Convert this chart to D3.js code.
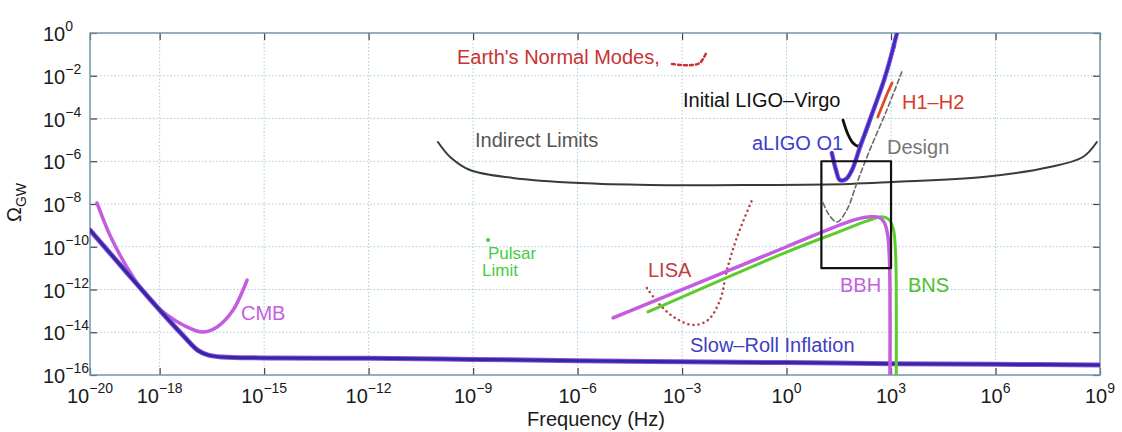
<!DOCTYPE html>
<meta charset="utf-8">
<style>
  body { margin: 0; background: #fff; }
  svg text { font-family: "Liberation Sans", Arial, sans-serif; }
</style>
<body>
<div id="chart"></div>
<script src="https://cdn.jsdelivr.net/npm/d3@7"></script>
<script>
  // all values are log10 exponents: [log10 f (Hz), log10 Omega_GW]
  var xTickExp = [-20, -18, -15, -12, -9, -6, -3, 0, 3, 6, 9];
  var yTickExp = [0, -2, -4, -6, -8, -10, -12, -14, -16];

  var inflation = [[-20, -9.22], [-19, -11.1], [-18, -12.96], [-17.3, -14.2], [-16.9, -14.85], [-16.6, -15.07],
    [-16.2, -15.16], [-15, -15.2], [-12, -15.22], [-9, -15.27], [-6, -15.33], [-3, -15.38], [0, -15.42],
    [3, -15.47], [6, -15.5], [9, -15.53]];
  var cmb = [[-19.8, -7.95], [-19.43, -9.45], [-18.94, -10.95], [-18.28, -12.49], [-17.79, -13.19],
    [-17.33, -13.66], [-16.78, -13.99], [-16.35, -13.75], [-15.89, -12.96], [-15.49, -11.56]];
  var indirect = [[-10.01, -5.1], [-9.66, -5.8], [-9.09, -6.41], [-7.86, -6.78], [-5.93, -7.02], [-3.92, -7.11],
    [-1.05, -7.11], [1.82, -7.06], [3.05, -6.97], [5.64, -6.74], [7.56, -6.27], [8.51, -5.8], [8.91, -5.1]];
  var earthModes = [[-3.29, -1.45], [-3.0, -1.5], [-2.72, -1.5], [-2.49, -1.4], [-2.31, -0.94]];
  var initialLigo = [[1.62, -4.07], [1.76, -4.73], [1.91, -5.15], [2.05, -5.29], [2.19, -5.01], [2.34, -4.4],
    [2.54, -3.42], [2.82, -2.06], [3.11, -0.56]];
  var aligoO1 = [[1.3, -5.61], [1.42, -6.41], [1.53, -6.88], [1.71, -6.83], [1.88, -6.41], [2.11, -5.33],
    [2.39, -4.07], [2.6, -3.13], [2.8, -2.2], [2.97, -1.26], [3.17, 0]];
  var h1h2 = [[2.62, -3.93], [2.77, -3.32], [2.91, -2.76], [3.03, -2.34]];
  var design = [[1.05, -7.95], [1.22, -8.51], [1.45, -8.84], [1.73, -8.28], [2.02, -7.02], [2.39, -5.47],
    [2.88, -3.6], [3.31, -1.82]];
  var lisa = [[-4.01, -11.93], [-3.63, -12.73], [-3.2, -13.33], [-2.69, -13.66], [-2.26, -13.43], [-1.91, -12.5],
    [-1.71, -11.09], [-1.42, -9.54], [-0.99, -7.81]];
  var bbh = [[-4.98, -13.33], [0, -10.0], [1.5, -9.0], [2.0, -8.72], [2.4, -8.6], [2.65, -8.62], [2.8, -8.85],
    [2.9, -9.4], [2.95, -10.4], [2.97, -12], [2.97, -16]];
  var bns = [[-3.98, -13.05], [0, -10.25], [1.5, -9.3], [2.3, -8.8], [2.75, -8.6], [2.95, -8.75], [3.07, -9.2],
    [3.13, -10.3], [3.15, -12], [3.15, -16]];
  var pulsar = [[-8.57, -9.68]];
  var boxF = [1, 3], boxO = [-6, -11];

  var W = 1122, H = 432;
  var x = d3.scaleLog().domain([1e-20, 1e9]).range([90, 1100]);
  var y = d3.scaleLog().domain([1e-16, 1]).range([375, 33]);
  function p10(e) { return Math.pow(10, e); }
  function pts(a) { return a.map(function (d) { return [p10(d[0]), p10(d[1])]; }); }

  var svg = d3.select("#chart").append("svg").attr("width", W).attr("height", H);

  // grid
  var grid = svg.append("g").attr("stroke", "#a9cbe0").attr("stroke-width", 1).attr("stroke-dasharray", "1.5,2");
  grid.selectAll("line.v").data(xTickExp.slice(1, -1)).enter().append("line")
    .attr("x1", function (d) { return x(p10(d)); }).attr("x2", function (d) { return x(p10(d)); })
    .attr("y1", 33).attr("y2", 375);
  grid.selectAll("line.h").data(yTickExp.slice(1, -1)).enter().append("line")
    .attr("y1", function (d) { return y(p10(d)); }).attr("y2", function (d) { return y(p10(d)); })
    .attr("x1", 90).attr("x2", 1100);

  // axes, ticks pointing inside
  var xT = xTickExp.map(p10), yT = yTickExp.map(p10);
  function styleAxis(g) {
    g.select(".domain").remove();
    g.selectAll(".tick line").attr("stroke", "#444").attr("stroke-width", 1.2);
    g.selectAll(".tick text").remove();
  }
  svg.append("g").attr("transform", "translate(0,375)")
    .call(d3.axisBottom(x).tickValues(xT).tickSize(-7).tickFormat("")).call(styleAxis);
  svg.append("g").attr("transform", "translate(0,33)")
    .call(d3.axisTop(x).tickValues(xT).tickSize(-7).tickFormat("")).call(styleAxis);
  svg.append("g").attr("transform", "translate(90,0)")
    .call(d3.axisLeft(y).tickValues(yT).tickSize(-7).tickFormat("")).call(styleAxis);
  svg.append("g").attr("transform", "translate(1100,0)")
    .call(d3.axisRight(y).tickValues(yT).tickSize(-7).tickFormat("")).call(styleAxis);

  svg.append("rect").attr("x", 90).attr("y", 33).attr("width", 1010).attr("height", 342)
    .attr("fill", "none").attr("stroke", "#6f97a8").attr("stroke-width", 1.5);

  // tick labels
  function sup(t, e) {
    t.append("tspan").text("10");
    t.append("tspan").attr("font-size", 14).attr("dy", -10).text(e < 0 ? "\u2212" + (-e) : e);
  }
  svg.selectAll("text.xl").data(xTickExp).enter().append("text")
    .attr("x", function (d) { return x(p10(d)); }).attr("y", 403)
    .attr("text-anchor", "middle").attr("font-size", 20).attr("fill", "#1a1a1a")
    .each(function (d) { sup(d3.select(this), d); });
  svg.selectAll("text.yl").data(yTickExp).enter().append("text")
    .attr("x", 43).attr("y", function (d) { return y(p10(d)) + 8; })
    .attr("font-size", 20).attr("fill", "#1a1a1a")
    .each(function (d) { sup(d3.select(this), d); });

  svg.append("text").attr("x", 596).attr("y", 426).attr("text-anchor", "middle")
    .attr("font-size", 20).attr("fill", "#1a1a1a").text("Frequency (Hz)");
  var yl = svg.append("text").attr("transform", "translate(21,222) rotate(-90)")
    .attr("font-size", 20).attr("fill", "#1a1a1a");
  yl.append("tspan").text("\u03A9");
  yl.append("tspan").attr("font-size", 14).attr("dy", 5).text("GW");

  // curves
  svg.append("clipPath").attr("id", "clip").append("rect")
    .attr("x", 90).attr("y", 33).attr("width", 1010).attr("height", 342);
  var plot = svg.append("g").attr("clip-path", "url(#clip)").attr("fill", "none")
    .attr("stroke-linecap", "round").attr("stroke-linejoin", "round");
  var smooth = d3.line().x(function (d) { return x(d[0]); }).y(function (d) { return y(d[1]); })
    .curve(d3.curveCatmullRom.alpha(0.5));

  function draw(data, gen, color, width, dash) {
    var path = plot.append("path").datum(pts(data)).attr("d", gen)
      .attr("stroke", color).attr("stroke-width", width);
    if (dash) path.attr("stroke-dasharray", dash);
    return path;
  }

  draw(indirect, smooth, "#3a3a3a", 2);
  draw(earthModes, smooth, "#cc3333", 2.5, "3,3");
  draw(cmb, smooth, "#c45ce0", 3.5);
  draw(inflation, smooth, "#9a4ad8", 5);
  draw(inflation, smooth, "#2b2ba6", 3);
  draw(lisa, smooth, "#b84040", 2.5, "0.1,5");
  draw(design, smooth, "#6a6a6a", 1.6, "5,3");
  draw(bns, smooth, "#5ccc2c", 3);
  draw(bbh, smooth, "#c45ce0", 3.5);
  draw(initialLigo, smooth, "#111111", 2.8);
  draw(h1h2, smooth, "#e04a22", 2.8);
  draw(aligoO1, smooth, "#9a4ad8", 4.5);
  draw(aligoO1, smooth, "#2f2fc0", 2.6);

  // black box
  plot.append("rect").attr("x", x(p10(boxF[0]))).attr("y", y(p10(boxO[0])))
    .attr("width", x(p10(boxF[1])) - x(p10(boxF[0]))).attr("height", y(p10(boxO[1])) - y(p10(boxO[0])))
    .attr("stroke", "#111").attr("stroke-width", 2.2);

  plot.selectAll("circle.ps").data(pts(pulsar)).enter().append("circle")
    .attr("cx", function (d) { return x(d[0]); }).attr("cy", function (d) { return y(d[1]); })
    .attr("r", 2).attr("fill", "#44cc44").attr("stroke", "none");

  // labels
  var labels = [
    { t: "Earth's Normal Modes,", x: 457, y: 64, c: "#c83232" },
    { t: "Initial LIGO\u2013Virgo", x: 683, y: 107, c: "#111111" },
    { t: "H1\u2013H2", x: 902, y: 109, c: "#d83a2a" },
    { t: "Indirect Limits", x: 475, y: 147, c: "#555555" },
    { t: "aLIGO O1", x: 752, y: 150, c: "#3c3cd0" },
    { t: "Design", x: 887, y: 154, c: "#777777" },
    { t: "LISA", x: 648, y: 277, c: "#c04040" },
    { t: "BBH", x: 840, y: 292, c: "#c460e0" },
    { t: "BNS", x: 908, y: 292, c: "#48c030" },
    { t: "CMB", x: 241, y: 320, c: "#c460e0" },
    { t: "Slow\u2013Roll Inflation", x: 690, y: 352, c: "#4040c0" },
    { t: "Pulsar", x: 488, y: 259, c: "#44cc44", s: 17 },
    { t: "Limit", x: 482, y: 276, c: "#44cc44", s: 17 }
  ];
  svg.selectAll("text.lab").data(labels).enter().append("text")
    .attr("x", function (d) { return d.x; }).attr("y", function (d) { return d.y; })
    .attr("font-size", function (d) { return d.s || 20; }).attr("fill", function (d) { return d.c; })
    .text(function (d) { return d.t; });
</script>
</body>
